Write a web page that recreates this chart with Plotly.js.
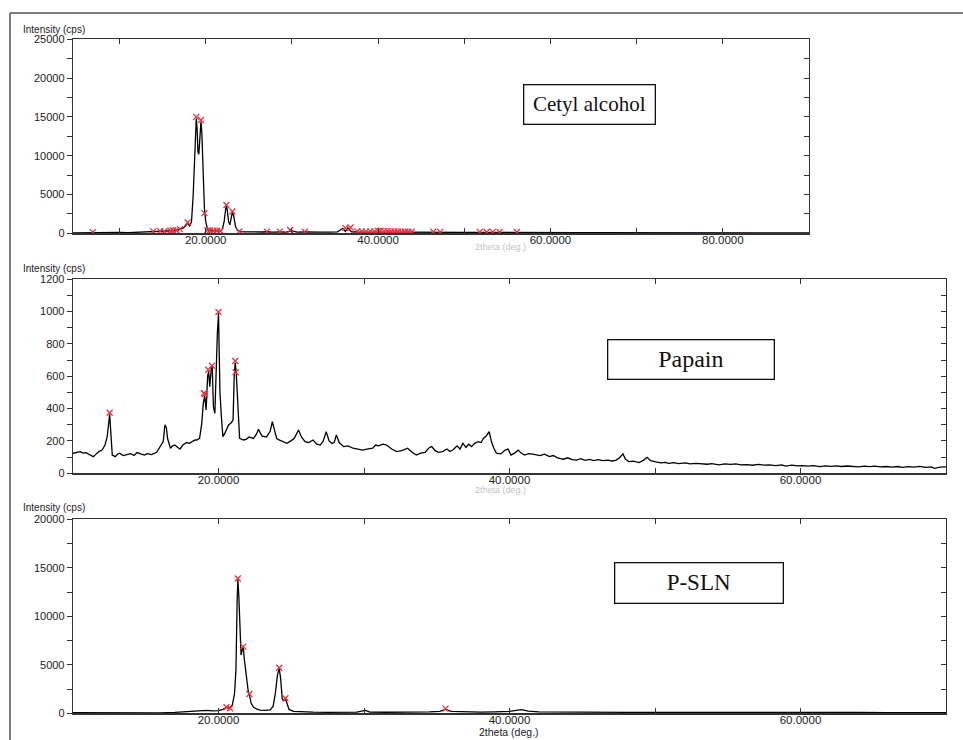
<!DOCTYPE html>
<html>
<head>
<meta charset="utf-8">
<script src="https://cdn.plot.ly/plotly-3.0.1.min.js"></script>
<style>html,body{margin:0;padding:0;background:#fff;}#chart{width:963px;height:740px;}</style>
</head>
<body>
<div id="chart"></div>
<script>
// ---------- Cetyl alcohol ----------
const cetylX = [4.6,5.5,6.5,6.9,7.3,8.0,9.0,10.0,11.0,12.0,13.0,13.5,13.9,14.3,14.7,15.2,15.6,15.9,16.2,16.6,17.0,17.4,17.7,17.9,18.15,18.35,18.55,18.75,18.9,19.0,19.1,19.2,19.3,19.45,19.55,19.7,19.85,20.0,20.2,20.4,20.7,21.0,21.4,21.7,21.95,22.15,22.3,22.4,22.5,22.65,22.8,22.95,23.1,23.25,23.45,23.7,24.0,24.5,25.5,26.5,27.1,27.8,28.6,29.3,30.0,30.6,31.5,32.5,33.5,34.5,35.3,35.9,36.2,36.5,36.9,37.5,38.5,39.5,40.5,41.5,42.5,43.5,44.5,45.5,46.4,47.2,48.5,50,51.8,52.6,53.3,54.1,55,56.1,57.5,59,61,63,65,67,69,71,73,75,77,79,81,83,85,87,90];
const cetylY = [60,80,70,120,60,90,70,110,80,120,140,160,230,180,260,200,240,300,330,380,520,700,1000,1350,900,1500,5000,11000,14800,13500,10500,10200,12500,14400,13000,7500,3200,1500,600,380,300,280,320,280,600,1600,3000,3600,3000,1500,1100,2100,2750,2200,900,350,220,180,150,170,200,150,190,140,300,160,170,130,140,150,180,650,250,700,200,170,160,200,230,210,190,170,160,130,150,140,120,110,130,120,130,120,100,110,90,80,90,70,80,70,80,60,70,60,70,60,70,60,60,50,60];
const cetylPeakX = [6.9,13.9,14.7,15.2,15.9,16.2,16.6,17.0,17.9,18.9,19.45,19.85,20.2,20.5,20.9,21.3,21.7,22.4,23.1,23.9,27.1,28.6,29.8,31.5,36.2,36.8,37.6,38.1,38.6,39.1,39.6,40.0,40.3,40.7,41.1,41.5,41.9,42.3,42.7,43.1,43.5,43.9,46.4,47.2,51.8,52.6,53.3,54.1,56.1];
const cetylPeakY = [150,250,280,230,320,350,400,540,1400,15000,14600,2600,400,350,320,330,300,3650,2800,250,220,220,430,200,700,750,250,230,220,250,230,300,320,280,260,240,230,240,220,210,200,200,200,180,180,170,180,170,160];

// ---------- Papain ----------
const papainX = [10.0,10.3,10.5,10.7,10.9,11.2,11.4,11.6,11.8,12.0,12.2,12.35,12.45,12.52,12.6,12.7,12.9,13.05,13.2,13.45,13.7,13.95,14.2,14.4,14.65,14.9,15.1,15.4,15.75,16.0,16.2,16.32,16.42,16.5,16.7,16.85,17.0,17.2,17.35,17.55,17.8,18.0,18.15,18.35,18.5,18.7,18.85,18.95,19.05,19.15,19.25,19.32,19.4,19.5,19.57,19.65,19.75,19.85,19.92,20.0,20.05,20.1,20.2,20.3,20.45,20.55,20.7,20.85,21.0,21.08,21.15,21.22,21.3,21.45,21.7,21.9,22.1,22.4,22.6,22.75,22.9,23.0,23.3,23.55,23.7,23.85,24.0,24.2,24.45,24.7,24.9,25.2,25.5,25.7,25.95,26.2,26.5,26.75,27.0,27.2,27.4,27.6,27.8,27.95,28.1,28.3,28.6,28.9,29.25,29.6,29.9,30.2,30.6,30.8,31.0,31.3,31.55,31.9,32.25,32.6,33.0,33.3,33.6,33.9,34.2,34.5,34.65,34.9,35.1,35.4,35.7,35.9,36.1,36.4,36.6,36.8,37.0,37.2,37.4,37.6,37.85,38.05,38.2,38.4,38.6,38.75,38.9,39.1,39.4,39.7,39.9,40.1,40.35,40.6,40.8,41.05,41.3,41.6,41.85,42.1,42.4,42.75,43.0,43.3,43.7,44.0,44.3,44.6,44.9,45.2,45.5,45.8,46.1,46.4,46.8,47.0,47.3,47.55,47.8,47.95,48.2,48.5,48.9,49.2,49.45,49.7,50.05,50.4,50.7,50.95,51.3,51.6,52.1,52.4,52.8,53.25,53.6,53.9,54.4,54.8,55.2,55.55,55.9,56.3,56.7,57.1,57.5,57.85,58.3,58.7,59.0,59.4,59.8,60.1,60.5,60.9,61.3,61.7,62.1,62.45,62.8,63.2,63.6,64.0,64.4,64.75,65.1,65.5,65.9,66.3,66.7,67.0,67.4,67.8,68.2,68.6,69.0,69.2,69.6,70.0];
const papainY = [124,130,134,125,128,112,103,120,136,144,175,227,330,365,250,113,103,118,124,110,115,122,110,128,120,113,122,116,130,165,196,300,280,215,155,170,175,160,150,175,190,185,196,205,206,216,309,430,480,392,598,630,536,650,660,412,371,700,860,990,763,500,350,227,250,268,300,309,330,600,685,620,480,216,206,210,225,216,240,272,245,230,225,260,320,270,215,205,196,185,196,215,268,225,196,190,206,180,175,200,258,200,185,190,237,190,165,170,155,150,144,150,155,175,170,180,175,150,134,140,155,130,113,125,130,160,165,140,130,134,150,135,144,170,150,186,160,180,165,185,196,190,216,230,258,200,160,124,120,144,150,113,125,144,125,113,122,118,114,110,118,103,110,95,87,96,85,82,90,80,86,78,84,78,82,76,80,95,120,90,72,75,66,80,99,78,70,64,68,62,66,60,64,58,62,60,56,60,52,58,55,58,52,54,50,55,50,52,48,52,45,50,46,48,44,47,41,46,43,46,42,45,43,40,44,41,44,40,42,38,42,37,41,38,43,37,40,31,38,40];
const papainPeakX = [12.52,19.0,19.08,19.3,19.55,20.0,21.15,21.18];
const papainPeakY = [375,495,490,640,665,998,695,625];

// ---------- P-SLN ----------
const pslnX = [10,11,12,13,14,15,16,17,17.5,18,18.5,18.8,19.2,19.6,20.0,20.3,20.55,20.75,20.95,21.1,21.2,21.28,21.33,21.4,21.47,21.55,21.62,21.7,21.78,21.85,21.95,22.05,22.12,22.25,22.4,22.6,22.85,23.2,23.55,23.75,23.9,24.05,24.17,24.27,24.38,24.48,24.6,24.72,24.85,25.15,25.6,26.5,27.5,28.5,29.5,30.1,30.4,31.5,32.5,33.5,34.5,35.2,35.6,36.0,37,38,39,40,40.8,41.3,42,43,44,45,46,48,50,52,54,56,58,60,62,64,66,68,70];
const pslnY = [60,50,70,40,60,80,50,100,150,200,250,230,300,250,280,400,600,520,850,2000,4500,11500,13800,12000,9000,6000,6500,6800,5500,4500,3000,2200,1950,1000,650,450,330,300,350,700,2000,3900,4650,3600,1500,1300,1500,1000,400,200,150,120,100,110,120,300,130,110,100,110,140,200,400,200,150,130,150,200,380,220,150,130,180,120,100,90,80,90,80,70,80,110,80,90,70,80,60];
const pslnPeakX = [20.55,20.8,21.33,21.7,22.12,24.17,24.6,35.6];
const pslnPeakY = [620,520,13900,6870,1990,4700,1550,480];

const panelNames = ["Cetyl alcohol","Papain","P-SLN"];
const yTitle = "Intensity (cps)";
const xTitle = "2theta (deg.)";

const W = 963, H = 740;
const px = v => v / W;
const py = v => 1 - v / H;
const lineCol = '#333';
const sans = 'Liberation Sans, Arial, sans-serif';
const tickFont = {family:sans, size:11, color:'#222'};
const red = '#e8323c';

function lineTrace(x, y, xa, ya){
  return {x:x, y:y, xaxis:xa, yaxis:ya, type:'scatter', mode:'lines',
    line:{color:'#000', width:1.3}, hoverinfo:'skip', showlegend:false};
}
function peakTrace(x, y, xa, ya){
  return {x:x, y:y, xaxis:xa, yaxis:ya, type:'scatter', mode:'markers',
    marker:{symbol:'x-thin-open', size:6, line:{color:red, width:1.3}, color:red},
    hoverinfo:'skip', showlegend:false};
}
function emptyTrace(xa, ya){
  return {x:[], y:[], xaxis:xa, yaxis:ya, type:'scatter', mode:'lines', hoverinfo:'skip', showlegend:false};
}

const data = [
  lineTrace(cetylX, cetylY, 'x', 'y'),
  peakTrace(cetylPeakX, cetylPeakY, 'x', 'y'),
  lineTrace(papainX, papainY, 'x2', 'y2'),
  peakTrace(papainPeakX, papainPeakY, 'x2', 'y2'),
  lineTrace(pslnX, pslnY, 'x3', 'y3'),
  peakTrace(pslnPeakX, pslnPeakY, 'x3', 'y3'),
  emptyTrace('x', 'y4'),
  emptyTrace('x2', 'y5'),
  emptyTrace('x3', 'y6')
];

function xAxis(domain, range, anchor){
  return {domain:domain, range:range, anchor:anchor, showgrid:false, zeroline:false,
    showline:true, linecolor:lineCol, linewidth:1.3, mirror:'ticks',
    ticks:'inside', ticklen:5, tickwidth:1, tickcolor:lineCol, ticklabelstandoff:-4,
    tick0:0, dtick:20, tickformat:'.4f', tickfont:{family:sans, size:11.5, color:'#222'},
    minor:{tick0:0, dtick:10, ticks:'inside', ticklen:5, tickwidth:1, tickcolor:lineCol, showgrid:false},
    fixedrange:true};
}
function yAxis(domain, range, dtick, minor, anchor){
  return {domain:domain, range:range, anchor:anchor, showgrid:false, zeroline:false,
    showline:true, linecolor:lineCol, linewidth:1.3, mirror:true,
    ticks:'outside', ticklen:5, tickwidth:1, tickcolor:lineCol,
    tick0:0, dtick:dtick, tickformat:'d', tickfont:tickFont,
    minor:{tick0:0, dtick:minor, ticks:'outside', ticklen:5, tickwidth:1, tickcolor:lineCol, showgrid:false},
    fixedrange:true};
}
function yRight(over, range, dtick, anchor){
  return {overlaying:over, side:'right', anchor:anchor, range:range, showgrid:false, zeroline:false,
    showline:false, ticks:'inside', ticklen:5, tickwidth:1, tickcolor:lineCol,
    tick0:0, dtick:dtick, showticklabels:false, fixedrange:true};
}

const d1 = [py(233.3), py(39.3)];
const d2 = [py(473.3), py(279.3)];
const d3 = [py(713.3), py(519.3)];

const layout = {
  width:W, height:H, margin:{l:0, r:0, t:0, b:0},
  paper_bgcolor:'#fff', plot_bgcolor:'#fff', showlegend:false, hovermode:false,
  xaxis: xAxis([px(73), px(809)], [4.6, 90], 'y'),
  yaxis: yAxis(d1, [0, 25000], 5000, 2500, 'x'),
  yaxis4: yRight('y', [0, 25000], 2500, 'x'),
  xaxis2: xAxis([px(73), px(946)], [10, 70], 'y2'),
  yaxis2: yAxis(d2, [0, 1200], 200, 100, 'x2'),
  yaxis5: yRight('y2', [0, 1200], 100, 'x2'),
  xaxis3: xAxis([px(73), px(946)], [10, 70], 'y3'),
  yaxis3: yAxis(d3, [0, 20000], 5000, 2500, 'x3'),
  yaxis6: yRight('y3', [0, 20000], 2500, 'x3'),
  shapes: [
    {type:'line', xref:'paper', yref:'paper', x0:px(10), x1:px(10), y0:0, y1:py(13), line:{color:'#555', width:1.5}},
    {type:'line', xref:'paper', yref:'paper', x0:px(10), x1:1, y0:py(13), y1:py(13), line:{color:'#555', width:1.5}}
  ],
  annotations: []
};

const yTitleY = [29, 268, 507];
yTitleY.forEach(v => layout.annotations.push({
  text:yTitle, xref:'paper', yref:'paper', x:px(21), y:py(v), xanchor:'left', yanchor:'middle',
  showarrow:false, font:{family:sans, size:10, color:'#222'}
}));
// x axis title of the bottom panel
layout.annotations.push({text:xTitle, xref:'paper', yref:'paper', x:px(509), y:py(732), xanchor:'center', yanchor:'middle',
  showarrow:false, font:{family:sans, size:10.5, color:'#222'}});
// upper two x titles are mostly hidden in the original, drawn faint
[[500, 247], [500, 490]].forEach(p => layout.annotations.push({text:xTitle, xref:'paper', yref:'paper', x:px(p[0]), y:py(p[1]), xanchor:'center', yanchor:'middle',
  showarrow:false, font:{family:sans, size:9, color:'#c4c4c4'}}));

const boxes = [
  {cx:589, cy:104, w:130, h:38, size:21},
  {cx:690.5, cy:359, w:165, h:38, size:24},
  {cx:698.5, cy:582.5, w:167, h:39, size:23}
];
boxes.forEach((b, i) => layout.annotations.push({
  text:panelNames[i], xref:'paper', yref:'paper', x:px(b.cx), y:py(b.cy), xanchor:'center', yanchor:'middle',
  showarrow:false, width:b.w, height:b.h, align:'center', valign:'middle',
  bgcolor:'#fff', bordercolor:'#111', borderwidth:1.3, borderpad:0,
  font:{family:'Liberation Serif, Times New Roman, serif', size:b.size, color:'#111'}
}));

Plotly.newPlot('chart', data, layout, {staticPlot:true, displayModeBar:false});
</script>
</body>
</html>
